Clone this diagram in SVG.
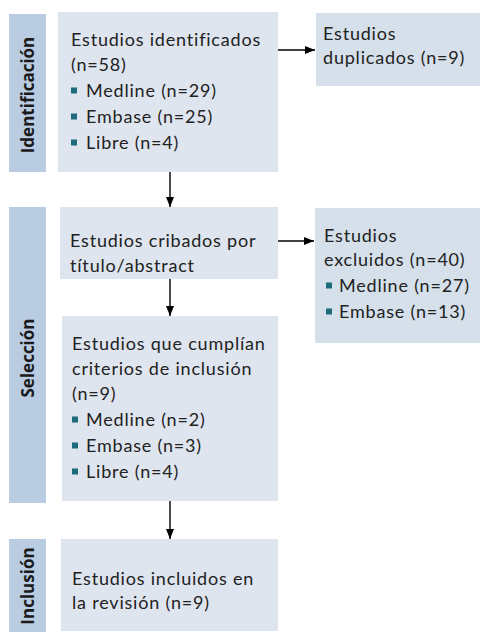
<svg xmlns="http://www.w3.org/2000/svg" width="480" height="632" viewBox="0 0 480 632">
<style>
.bar{fill:#b9cce2}
.box{fill:#dfe5ef}
.side{fill:#d5e0eb}
.t{font-family:Lato,"Noto Sans",sans-serif;font-size:18px;letter-spacing:0.8px;fill:#222}
.lab{font-family:"Open Sans","Noto Sans",sans-serif;font-size:17px;font-weight:bold;fill:#1a1a1a}
.b{fill:#1d6b7a}
.c{stroke:#000;stroke-width:1.4;fill:none}
</style>
<defs>
<marker id="ah" markerWidth="10" markerHeight="8" refX="10" refY="4" orient="auto" markerUnits="userSpaceOnUse">
<path d="M0,0 L10,4 L0,8 z" fill="#000"/>
</marker>
</defs>
<rect width="480" height="632" fill="#fff"/>
<g id="lbl-identificacion">
<rect class="bar" x="9" y="14" width="37" height="158"/>
<text class="lab" transform="translate(33.5,95) rotate(-90)" text-anchor="middle">Identificación</text>
</g>
<g id="lbl-seleccion">
<rect class="bar" x="9" y="207" width="37" height="296"/>
<text class="lab" transform="translate(33.5,358) rotate(-90)" text-anchor="middle">Selección</text>
</g>
<g id="lbl-inclusion">
<rect class="bar" x="9" y="539" width="37" height="93"/>
<text class="lab" transform="translate(33.5,586) rotate(-90)" text-anchor="middle">Inclusión</text>
</g>
<g id="n-identificados">
<rect class="box" x="58" y="12" width="220" height="160"/>
<text class="t" x="71" y="46">Estudios identificados</text>
<text class="t" x="71" y="71">(n=58)</text>
<rect class="b" x="71" y="87.5" width="6" height="6"/>
<text class="t" x="86" y="97">Medline (n=29)</text>
<rect class="b" x="71" y="113.5" width="6" height="6"/>
<text class="t" x="86" y="123">Embase (n=25)</text>
<rect class="b" x="71" y="139.5" width="6" height="6"/>
<text class="t" x="86" y="149">Libre (n=4)</text>
</g>
<g id="n-duplicados">
<rect class="side" x="316" y="13" width="164" height="73"/>
<text class="t" x="323" y="40">Estudios</text>
<text class="t" x="323" y="64">duplicados (n=9)</text>
</g>
<g id="n-cribados">
<rect class="box" x="60" y="207" width="218" height="72"/>
<text class="t" x="70" y="247">Estudios cribados por</text>
<text class="t" x="70" y="272">título/abstract</text>
</g>
<g id="n-excluidos">
<rect class="side" x="315" y="208" width="165" height="135"/>
<text class="t" x="324" y="242">Estudios</text>
<text class="t" x="324" y="266">excluidos (n=40)</text>
<rect class="b" x="326" y="282.5" width="6" height="6"/>
<text class="t" x="339" y="292">Medline (n=27)</text>
<rect class="b" x="326" y="308.5" width="6" height="6"/>
<text class="t" x="339" y="318">Embase (n=13)</text>
</g>
<g id="n-criterios">
<rect class="box" x="62" y="316" width="216" height="185"/>
<text class="t" x="72" y="350">Estudios que cumplían</text>
<text class="t" x="72" y="375">criterios de inclusión</text>
<text class="t" x="72" y="400">(n=9)</text>
<rect class="b" x="72" y="416.5" width="6" height="6"/>
<text class="t" x="86" y="426">Medline (n=2)</text>
<rect class="b" x="72" y="442.5" width="6" height="6"/>
<text class="t" x="86" y="452">Embase (n=3)</text>
<rect class="b" x="72" y="468.5" width="6" height="6"/>
<text class="t" x="86" y="478">Libre (n=4)</text>
</g>
<g id="n-incluidos">
<rect class="box" x="61" y="539" width="217" height="92"/>
<text class="t" x="72" y="585">Estudios incluidos en</text>
<text class="t" x="72" y="609">la revisión (n=9)</text>
</g>
<g id="connectors">
<line class="c" x1="170" y1="172" x2="170" y2="207" marker-end="url(#ah)"/>
<line class="c" x1="278" y1="50" x2="315" y2="50" marker-end="url(#ah)"/>
<line class="c" x1="278" y1="241" x2="314" y2="241" marker-end="url(#ah)"/>
<line class="c" x1="170" y1="279" x2="170" y2="316" marker-end="url(#ah)"/>
<line class="c" x1="170" y1="501" x2="170" y2="539" marker-end="url(#ah)"/>
</g>
</svg>
